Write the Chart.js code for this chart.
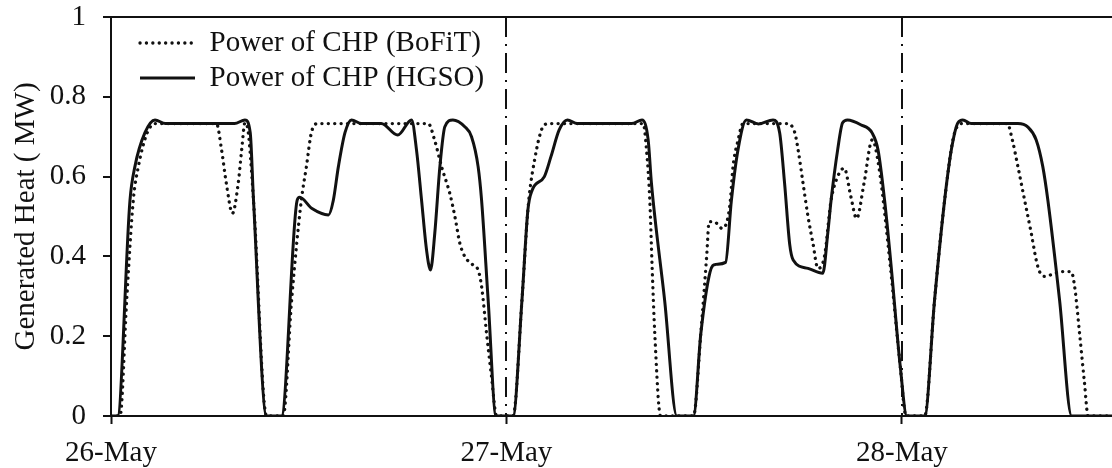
<!DOCTYPE html>
<html>
<head>
<meta charset="utf-8">
<script src="https://cdn.jsdelivr.net/npm/chart.js@4"></script>
<style>
  html, body { margin: 0; padding: 0; background: #fff; }
  #chart { display: block; }
</style>
</head>
<body>
<canvas id="chart" width="1112" height="468"></canvas>
<script>
// hours counted from 26-May 00:00
var hoursBoFiT = [0, 0.55, 0.95, 1.35, 1.66, 2.2, 2.7, 6.4, 6.71, 7.0, 7.37, 7.72, 7.93, 8.13, 8.3, 8.65, 9.44,
  10.45, 10.96, 11.55, 11.86, 12.16, 12.56, 19.25, 19.65, 20.06, 20.56, 20.87, 21.17, 21.47, 21.98, 22.28, 22.49, 22.79, 23.09, 23.4,
  24.4, 24.94, 25.3, 25.45, 25.7, 26.0, 26.3, 26.7, 32.3, 32.5, 32.7, 32.84, 33.0, 33.35,
  35.35, 35.8, 36.15, 36.3, 36.6, 37.1, 37.55, 37.75, 38.05, 38.36, 41.05, 41.5, 41.7, 42.0, 42.3, 42.6, 42.9, 43.3, 43.7, 44.1, 44.5, 44.9, 45.25, 45.7, 46.2, 46.6, 47.3, 47.9, 48.25,
  49.38, 49.98, 50.59, 51.2, 51.7, 54.4, 54.7, 55.04, 55.45, 55.85, 56.15, 56.35, 56.66, 57.2, 57.67, 58.27, 58.48, 58.78, 59.08, 59.3, 60.75];
var heatBoFiT = [0, 0, 0.29, 0.54, 0.625, 0.71, 0.733, 0.733, 0.667, 0.583, 0.508, 0.583, 0.667, 0.735, 0.72, 0.54, 0,
  0, 0.29, 0.54, 0.625, 0.71, 0.733, 0.733, 0.69, 0.625, 0.558, 0.50, 0.433, 0.40, 0.378, 0.366, 0.325, 0.208, 0.1, 0,
  0, 0.29, 0.516, 0.575, 0.64, 0.70, 0.73, 0.733, 0.733, 0.667, 0.54, 0.374, 0.208, 0,
  0, 0.21, 0.40, 0.487, 0.487, 0.47, 0.525, 0.625, 0.69, 0.733, 0.733, 0.71, 0.667, 0.583, 0.5, 0.433, 0.37, 0.40, 0.54, 0.6, 0.621, 0.55, 0.495, 0.583, 0.692, 0.625, 0.374, 0.124, 0,
  0, 0.29, 0.54, 0.71, 0.733, 0.733, 0.692, 0.625, 0.54, 0.458, 0.391, 0.362, 0.35, 0.356, 0.362, 0.362, 0.325, 0.208, 0.083, 0, 0];

var hoursHGSO = [0, 0.4, 1.15, 1.45, 2.06, 2.67, 3.3, 7.5, 8.13, 8.45, 8.65, 9.44,
  10.35, 11.3, 11.45, 12.2, 13.2, 13.49, 13.8, 14.2, 14.6, 15.2, 16.4, 17.4, 18.24, 18.54, 18.85, 19.15, 19.39, 19.65, 19.96, 20.26, 20.75, 21.47, 21.88, 22.28, 22.49, 22.89, 23.37,
  24.4, 24.94, 25.3, 25.56, 26.3, 26.7, 27.2, 27.7, 28.3, 31.6, 32.23, 32.6, 32.8, 33.6, 34.34,
  35.35, 35.8, 36.35, 36.7, 37.3, 37.65, 38.05, 38.56, 39.3, 40.18, 40.58, 40.88, 41.19, 41.4, 42.3, 43.2, 43.5, 43.7, 44.1, 44.4, 44.7, 45.5, 46.2, 46.55, 46.95, 47.35, 47.9, 48.3,
  49.38, 49.98, 50.59, 51.0, 51.4, 51.7, 52.2, 55.04, 55.65, 56.15, 56.55, 56.86, 57.57, 58.3, 60.75];
var heatHGSO = [0, 0, 0.54, 0.625, 0.71, 0.742, 0.733, 0.733, 0.742, 0.71, 0.54, 0,
  0, 0.541, 0.548, 0.52, 0.504, 0.54, 0.625, 0.71, 0.742, 0.733, 0.733, 0.704, 0.742, 0.667, 0.54, 0.416, 0.366, 0.458, 0.625, 0.725, 0.742, 0.725, 0.70, 0.625, 0.541, 0.29, 0,
  0, 0.29, 0.516, 0.566, 0.6, 0.65, 0.717, 0.742, 0.733, 0.733, 0.742, 0.692, 0.583, 0.29, 0,
  0, 0.208, 0.36, 0.38, 0.385, 0.54, 0.667, 0.742, 0.732, 0.742, 0.71, 0.583, 0.43, 0.391, 0.37, 0.358, 0.458, 0.54, 0.667, 0.735, 0.742, 0.73, 0.709, 0.667, 0.54, 0.374, 0.124, 0,
  0, 0.29, 0.54, 0.667, 0.735, 0.742, 0.733, 0.733, 0.724, 0.692, 0.625, 0.54, 0.29, 0, 0];

var dayTicks = [0, 24, 48];
var dayLabels = ['26-May', '27-May', '28-May'];
var dayLines = [24, 48];
var lastHour = 60.75;
var heatTicks = [0, 0.2, 0.4, 0.6, 0.8, 1];
var heatTickLabels = ['0', '0.2', '0.4', '0.6', '0.8', '1'];

function points(xs, ys) {
  return xs.map(function (x, i) { return { x: x, y: ys[i] }; });
}

Chart.defaults.font.family = "'Liberation Serif', 'Times New Roman', serif";
Chart.defaults.font.size = 29;
Chart.defaults.color = '#111';

// dash-dot day separators + legend placed inside the plot
var dayLinePlugin = {
  id: 'dayLines',
  afterLayout: function (chart) {
    var lg = chart.legend, area = chart.chartArea;
    lg.left = area.left + 23;
    lg.top = area.top + 5.5;
  },
  beforeDatasetsDraw: function (chart) {
    var ctx = chart.ctx, xs = chart.scales.x, area = chart.chartArea;
    ctx.save();
    ctx.strokeStyle = '#111';
    ctx.lineWidth = 2;
    ctx.setLineDash([20, 7, 2, 7]);
    dayLines.forEach(function (h) {
      var px = Math.round(xs.getPixelForValue(h));
      ctx.beginPath();
      ctx.moveTo(px, area.top);
      ctx.lineTo(px, area.bottom);
      ctx.stroke();
    });
    ctx.restore();
  }
};

var ctx = document.getElementById('chart');
var chart = new Chart(ctx, {
  type: 'line',
  data: {
    datasets: [{
      label: 'Power of CHP (BoFiT)',
      data: points(hoursBoFiT, heatBoFiT),
      borderColor: '#111',
      borderWidth: 3.3,
      borderDash: [0.1, 6.3],
      borderCapStyle: 'round',
      pointRadius: 0,
      cubicInterpolationMode: 'monotone'
    }, {
      label: 'Power of CHP (HGSO)',
      data: points(hoursHGSO, heatHGSO),
      borderColor: '#111',
      borderWidth: 3,
      pointRadius: 0,
      cubicInterpolationMode: 'monotone'
    }]
  },
  options: {
    responsive: false,
    animation: false,
    devicePixelRatio: 1,
    layout: { padding: { top: 0, left: 0, right: 0, bottom: 0 } },
    plugins: {
      tooltip: { enabled: false },
      legend: {
        position: 'chartArea',
        align: 'start',
        labels: {
          usePointStyle: true,
          pointStyleWidth: 55,
          padding: 6,
          color: '#111',
          font: { size: 29 },
          generateLabels: function (chart) {
            return chart.data.datasets.map(function (ds, i) {
              return {
                text: ds.label,
                datasetIndex: i,
                strokeStyle: ds.borderColor,
                fillStyle: ds.borderColor,
                fontColor: '#111',
                lineWidth: ds.borderWidth,
                lineDash: ds.borderDash || [],
                lineCap: ds.borderCapStyle || 'butt',
                pointStyle: 'line',
                hidden: false
              };
            });
          }
        }
      }
    },
    scales: {
      x: {
        type: 'linear',
        min: 0,
        max: lastHour,
        afterBuildTicks: function (scale) {
          scale.ticks = dayTicks.map(function (v) { return { value: v }; });
        },
        afterFit: function (scale) { scale.height = 52; },
        ticks: {
          autoSkip: false,
          maxRotation: 0,
          padding: 12,
          color: '#111',
          callback: function (value) { return dayLabels[dayTicks.indexOf(value)]; }
        },
        grid: {
          drawOnChartArea: false,
          tickLength: 8,
          tickColor: '#111',
          tickWidth: 2
        },
        border: { color: '#111', width: 2 }
      },
      y: {
        min: 0,
        max: 1,
        afterBuildTicks: function (scale) {
          scale.ticks = heatTicks.map(function (v) { return { value: v }; });
        },
        afterFit: function (scale) {
          scale.width = 111;
          scale.paddingTop = 17;
          scale.paddingBottom = 0;
        },
        ticks: {
          padding: 17,
          color: '#111',
          callback: function (value, index) { return heatTickLabels[index]; }
        },
        grid: {
          color: function (c) { return c.tick && c.tick.value === 1 ? '#111' : 'rgba(0,0,0,0)'; },
          lineWidth: 2,
          tickLength: 8,
          tickColor: '#111',
          tickWidth: 2
        },
        border: { color: '#111', width: 2 },
        title: {
          display: true,
          text: 'Generated Heat ( MW)',
          color: '#111',
          font: { size: 29 },
          padding: { top: 9, bottom: 0 }
        }
      }
    }
  },
  plugins: [dayLinePlugin]
});
</script>
</body>
</html>
